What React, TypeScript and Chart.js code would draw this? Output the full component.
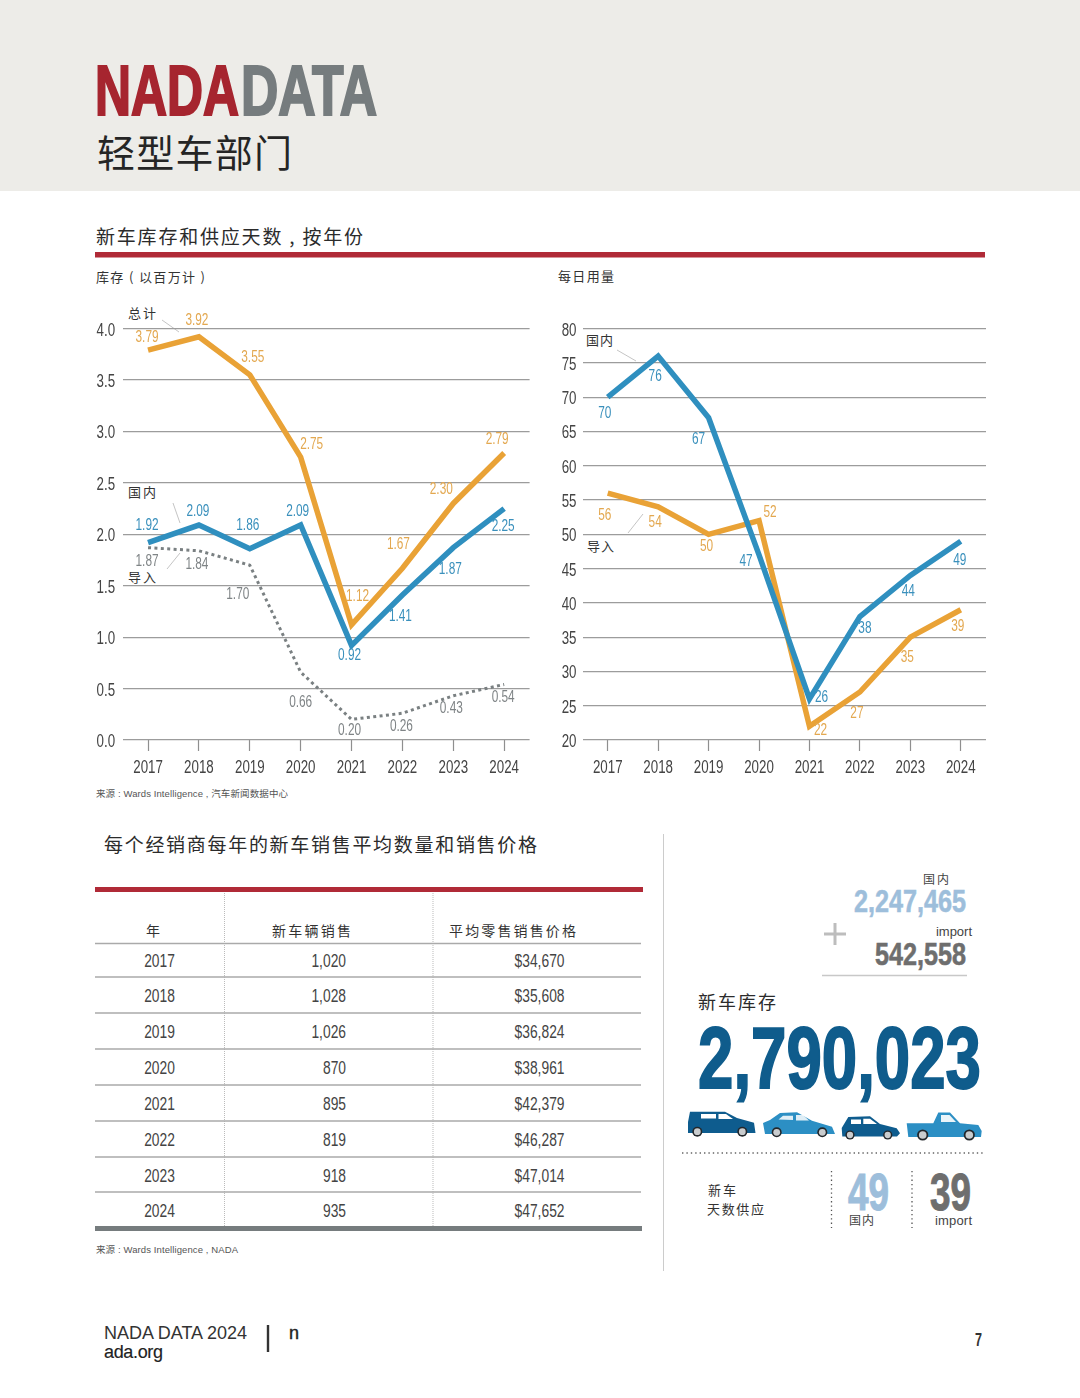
import React, { useEffect, useRef } from "react";
import { Chart, registerables } from "chart.js";

Chart.register(...registerables);

const years = ["2017", "2018", "2019", "2020", "2021", "2022", "2023", "2024"];

const invTotal = [3.79, 3.92, 3.55, 2.75, 1.12, 1.67, 2.3, 2.79];
const invDomestic = [1.92, 2.09, 1.86, 2.09, 0.92, 1.41, 1.87, 2.25];
const invImport = [1.87, 1.84, 1.7, 0.66, 0.2, 0.26, 0.43, 0.54];

const dayDomestic = [70, 76, 67, 47, 26, 38, 44, 49];
const dayImport = [56, 54, 50, 52, 22, 27, 35, 39];

const tableSales = ["1,020", "1,028", "1,026", "870", "895", "819", "918", "935"];
const tablePrices = ["$34,670", "$35,608", "$36,824", "$38,961", "$42,379", "$46,287", "$47,014", "$47,652"];

// label nudges from each point, in px, per series
const invTotalDx = [-1, -2, 3, 11, 6, -4, -12, -7];
const invTotalDy = [-13, -16, -17, -13, -28, -24, -14, -13];
const invDomesticDx = [-1, -1, -2, -3, -2, -2, -3, -1];
const invDomesticDy = [-17, -13, -23, -13, 10, 22, 22, 18];
const invImportDx = [-1, -2, -12, 0, -2, -1, -2, -1];
const invImportDy = [14, 14, 29, 30, 11, 13, 13, 13];
const dayDomesticDx = [-3, -3, -10, -13, 12, 5, -2, -1];
const dayDomesticDy = [16, 21, 22, 7, -1, 12, 16, 19];
const dayImportDx = [-3, -3, -2, 11, 11, -3, -3, -3];
const dayImportDy = [22, 16, 12, -8, 4, 22, 20, 17];

const LATIN = '"Liberation Sans", sans-serif';
const CJK = '"Noto Sans CJK SC", sans-serif';
const MIXED = '"Liberation Sans", "Noto Sans CJK SC", sans-serif';
const CONDENSE = 0.74;
const TABLE_CONDENSE = 0.79;

const ORANGE = "#E9A236";
const BLUE = "#2F8FBF";
const GREY = "#7A8082";
const ORANGE_TXT = "#E3A850";
const BLUE_TXT = "#3A90BC";
const GREY_TXT = "#7F8486";

// The installed fonts have no condensed cut, so every text the chart paints goes through a horizontal squeeze.
const condensedText = {
  id: "condensedText",
  beforeDraw(chart: any) {
    const c = chart.ctx;
    if (c.__condensed) return;
    c.__condensed = true;
    const paint = c.fillText.bind(c);
    c.fillText = (t: string, x: number, y: number) => {
      c.save();
      c.translate(x, y);
      c.scale(CONDENSE, 1);
      paint(t, 0, 0);
      c.restore();
    };
  },
};

const valueLabels = {
  id: "valueLabels",
  afterDatasetsDraw(chart: any) {
    const ctx = chart.ctx;
    chart.data.datasets.forEach((ds: any, di: number) => {
      const meta = chart.getDatasetMeta(di);
      ctx.save();
      ctx.font = `16px ${LATIN}`;
      ctx.fillStyle = ds.labelColor;
      ctx.textAlign = "center";
      ctx.textBaseline = "middle";
      ds.data.forEach((v: number, i: number) => {
        const p = meta.data[i];
        ctx.fillText(ds.labelFormat(v), p.x + ds.labelDx[i], p.y + ds.labelDy[i]);
      });
      ctx.restore();
    });
  },
};

function makeOptions(o: any) {
  return {
    responsive: false,
    animation: false,
    maintainAspectRatio: false,
    layout: { padding: { top: 28.6, right: o.right, left: 0, bottom: 0 } },
    plugins: { legend: { display: false }, tooltip: { enabled: false } },
    elements: { point: { radius: 0 }, line: { tension: 0, borderJoinStyle: "miter", borderCapStyle: "butt" } },
    scales: {
      x: {
        type: "category",
        offset: true,
        afterFit: (s: any) => { s.height = 50; },
        border: { display: false },
        grid: { drawOnChartArea: false, drawTicks: true, tickLength: 11, tickColor: "#8f8f8f", tickWidth: 1.2, offset: false },
        ticks: { autoSkip: false, maxRotation: 0, padding: 6, color: "#444", font: { family: LATIN, size: 18 } },
      },
      y: {
        min: o.min,
        max: o.max,
        afterFit: (s: any) => { s.width = o.axisW; },
        border: { display: false },
        grid: { color: "#9c9c9c", lineWidth: 1.3, drawTicks: false },
        ticks: {
          stepSize: o.step,
          padding: o.pad,
          labelOffset: 2,
          color: "#444",
          font: { family: LATIN, size: 18 },
          callback: o.fmt,
        },
      },
    },
  };
}

function LineChart({ left, width, datasets, options }: any) {
  const ref = useRef<HTMLCanvasElement | null>(null);
  useEffect(() => {
    const chart = new Chart(ref.current as HTMLCanvasElement, {
      type: "line",
      data: { labels: years, datasets },
      options,
      plugins: [condensedText, valueLabels],
    } as any);
    return () => chart.destroy();
  }, []);
  return <canvas ref={ref} width={width} height={490} style={{ position: "absolute", left, top: 300, width, height: 490 }} />;
}

function T({ x, y, s, size, fill = "#333", w, family = CJK, weight = 400, anchor = "start", squeeze = false, thick = 0, sx }: any) {
  const stroke = thick ? { stroke: fill, strokeWidth: thick } : {};
  if (sx) {
    return (
      <text transform={`translate(${x} ${y}) scale(${sx} 1)`} fontSize={size} fill={fill} fontFamily={family} fontWeight={weight} textAnchor={anchor} {...stroke}>
        {s}
      </text>
    );
  }
  return (
    <text
      x={x}
      y={y}
      fontSize={size}
      fill={fill}
      fontFamily={family}
      fontWeight={weight}
      textAnchor={anchor}
      textLength={w}
      lengthAdjust={w ? (squeeze ? "spacingAndGlyphs" : "spacing") : undefined}
      {...stroke}
    >
      {s}
    </text>
  );
}

function Wheel({ x, y, r }: any) {
  return (
    <g>
      <circle cx={x} cy={y} r={r} fill="#23272b" />
      <circle cx={x} cy={y} r={r * 0.68} fill="#c9ccce" />
    </g>
  );
}

function Cars() {
  const dark = "#0E5C8E";
  const light = "#2C8FC4";
  return (
    <g>
      <path d="M688 1122 L690 1111.7 L725 1111.7 L737 1118 L754 1122.7 L755.5 1133 L688 1133 Z" fill={dark} />
      <path d="M701 1114 H716 V1118.5 H701 Z M718.5 1114 H726 L733 1119 H718.5 Z" fill="#fff" />
      <Wheel x={697.3} y={1131.7} r={5} />
      <Wheel x={742.3} y={1131.7} r={5} />

      <path d="M763 1123 L770 1120 L780 1113 L797 1112.3 L812 1120.7 L832 1126.7 L835 1134 L765 1134 Z" fill={light} />
      <path d="M778.5 1119.5 L783 1115.7 H793 V1120 Z M796 1115 H803 L809 1120.5 H796 Z" fill="#fff" opacity={0.85} />
      <Wheel x={776.7} y={1132.3} r={5} />
      <Wheel x={822.3} y={1132.3} r={5} />

      <path d="M841.7 1128 L848.3 1117 L870 1116.3 L880 1124 L896.7 1128.3 L900 1133.3 L897 1136.5 L842.3 1136.5 Z" fill={dark} />
      <path d="M851 1119.5 H861 V1124 H851 Z M863.3 1118.7 H870 L877 1124 H863.3 Z" fill="#fff" />
      <Wheel x={850} y={1135} r={4.6} />
      <Wheel x={887.7} y={1135} r={4.6} />

      <path d="M906.7 1123.3 H933.3 L938.3 1112.5 H950 L960 1123.3 L978.3 1125 L981.7 1131 L981 1137 L908.3 1137 Z" fill={light} />
      <path d="M941 1115 H949.5 L956 1122 H941 Z" fill="#fff" opacity={0.9} />
      <Wheel x={922.7} y={1135} r={5.6} />
      <Wheel x={969.3} y={1135} r={5.6} />
    </g>
  );
}

const rowLines = [943.5, 977, 1013, 1049, 1085, 1121, 1157, 1192];
const rowCenters = [961, 996, 1032, 1068, 1104, 1140, 1176, 1211];

export default function App() {
  const leftSets = [
    {
      label: "国内", data: invDomestic, borderColor: BLUE, borderWidth: 5.5, clip: false,
      labelColor: BLUE_TXT, labelDx: invDomesticDx, labelDy: invDomesticDy, labelFormat: (v: number) => v.toFixed(2),
    },
    {
      label: "总计", data: invTotal, borderColor: ORANGE, borderWidth: 5.5, clip: false,
      labelColor: ORANGE_TXT, labelDx: invTotalDx, labelDy: invTotalDy, labelFormat: (v: number) => v.toFixed(2),
    },
    {
      label: "导入", data: invImport, borderColor: GREY, borderWidth: 3, borderDash: [3, 3.4], clip: false,
      labelColor: GREY_TXT, labelDx: invImportDx, labelDy: invImportDy, labelFormat: (v: number) => v.toFixed(2),
    },
  ];
  const rightSets = [
    {
      label: "国内", data: dayDomestic, borderColor: BLUE, borderWidth: 5.5, clip: false,
      labelColor: BLUE_TXT, labelDx: dayDomesticDx, labelDy: dayDomesticDy, labelFormat: (v: number) => String(v),
    },
    {
      label: "导入", data: dayImport, borderColor: ORANGE, borderWidth: 5.5, clip: false,
      labelColor: ORANGE_TXT, labelDx: dayImportDx, labelDy: dayImportDy, labelFormat: (v: number) => String(v),
    },
  ];
  const leftOpts = makeOptions({ right: 10.4, min: 0, max: 4, step: 0.5, axisW: 42.6, pad: 7.5, fmt: (v: number) => Number(v).toFixed(1) });
  const rightOpts = makeOptions({ right: 14, min: 20, max: 80, step: 5, axisW: 32.5, pad: 6, fmt: (v: number) => String(v) });

  return (
    <div style={{ position: "absolute", left: 0, top: 0, width: 1080, height: 1398, background: "#fff", overflow: "hidden" }}>
      <svg width={1080} height={1398} style={{ position: "absolute", left: 0, top: 0 }}>
        <rect x={0} y={0} width={1080} height={191} fill="#EDECE8" />
        <T x={95} y={115} s="NADA" size={71} weight={700} family={LATIN} fill="#A6252F" w={144} squeeze thick={2.2} />
        <T x={241} y={115} s="DATA" size={71} weight={700} family={LATIN} fill="#767C7E" w={136} squeeze thick={2.2} />
        <T x={97} y={167} s="轻型车部门" size={38} fill="#252525" w={195} />

        <T x={96} y={244} s="新车库存和供应天数 , 按年份" size={19} fill="#2b2b2b" w={267} />
        <rect x={95} y={252} width={890} height={5.5} fill="#B02A37" />
        <T x={96} y={281.5} s="库存 ( 以百万计 )" size={13} fill="#333" w={109} />
        <T x={558} y={281} s="每日用量" size={13} fill="#333" w={56} />

        {/* chart annotations */}
        <T x={128} y={318} s="总计" size={13} w={28} />
        <T x={128} y={497} s="国内" size={13} w={28} />
        <T x={128} y={582} s="导入" size={13} w={28} />
        <T x={586} y={345} s="国内" size={13} w={27} />
        <T x={587} y={551} s="导入" size={13} w={27} />
        <g stroke="#bdbdbd" strokeWidth={0.9} fill="none">
          <line x1={162} y1={320} x2={179} y2={332} />
          <line x1={173} y1={503} x2={180} y2={523} />
          <line x1={180} y1={553} x2={167} y2={569} />
          <line x1={617} y1={350} x2={636} y2={361} />
          <line x1={643} y1={514} x2={628} y2={533} />
        </g>
        <T x={96} y={797} s="来源 : Wards Intelligence , 汽车新闻数据中心" size={9.5} family={MIXED} fill="#555" w={192} />

        {/* table */}
        <T x={104} y={852} s="每个经销商每年的新车销售平均数量和销售价格" size={19} fill="#2b2b2b" w={433} />
        <rect x={95} y={887} width={548} height={5} fill="#B02A37" />
        <line x1={224.5} y1={893} x2={224.5} y2={1226} stroke="#bbb" strokeWidth={1} strokeDasharray="1 1" />
        <line x1={433} y1={893} x2={433} y2={1226} stroke="#bbb" strokeWidth={1} strokeDasharray="1 1" />
        <T x={146} y={936} s="年" size={14} />
        <T x={272} y={936} s="新车辆销售" size={14} w={79} />
        <T x={449} y={936} s="平均零售销售价格" size={14} w={127} />
        {rowLines.map((y, i) => (
          <line key={i} x1={95} y1={y} x2={641} y2={y} stroke="#aaa" strokeWidth={1.3} />
        ))}
        <rect x={95} y={1226} width={547} height={5} fill="#767C7E" />
        {years.map((yr, i) => (
          <g key={yr}>
            <T x={159.5} y={rowCenters[i] + 6} s={yr} size={17.5} family={LATIN} fill="#444" anchor="middle" sx={TABLE_CONDENSE} />
            <T x={346} y={rowCenters[i] + 6} s={tableSales[i]} size={17.5} family={LATIN} fill="#444" anchor="end" sx={TABLE_CONDENSE} />
            <T x={564.5} y={rowCenters[i] + 6} s={tablePrices[i]} size={17.5} family={LATIN} fill="#444" anchor="end" sx={TABLE_CONDENSE} />
          </g>
        ))}
        <T x={96} y={1252.5} s="来源 : Wards Intelligence , NADA" size={9.5} family={MIXED} fill="#555" w={142} />

        {/* right panel */}
        <line x1={663.5} y1={834} x2={663.5} y2={1271} stroke="#ccc" strokeWidth={1} />
        <T x={923} y={883.5} s="国内" size={12} fill="#444" w={26} />
        <T x={854} y={912} s="2,247,465" size={32} weight={700} family={LATIN} fill="#9DBEDB" w={112} squeeze thick={0.6} />
        <g stroke="#BDBDBD" strokeWidth={3}>
          <line x1={824} y1={934} x2={846} y2={934} />
          <line x1={835} y1={923} x2={835} y2={945} />
        </g>
        <T x={936} y={936} s="import" size={13} family={LATIN} fill="#444" w={36} />
        <T x={875} y={964.5} s="542,558" size={32} weight={700} family={LATIN} fill="#6E6E6E" w={91} squeeze thick={0.6} />
        <line x1={822} y1={975.5} x2={967} y2={975.5} stroke="#c8c8c8" strokeWidth={1.5} />
        <T x={698} y={1008.5} s="新车库存" size={18} fill="#2b2b2b" w={78} />
        <T x={698} y={1088} s="2,790,023" size={88} weight={700} family={LATIN} fill="#0F5C8C" w={283} squeeze thick={2} />
        <Cars />
        <line x1={682} y1={1153} x2={984} y2={1153} stroke="#666" strokeWidth={1.4} strokeDasharray="1.4 3" />
        <T x={708} y={1195} s="新车" size={13} w={28} />
        <T x={707} y={1214} s="天数供应" size={13} w={57} />
        <line x1={831.5} y1={1171} x2={831.5} y2={1228} stroke="#555" strokeWidth={1.3} strokeDasharray="1.3 3" />
        <line x1={912} y1={1171} x2={912} y2={1228} stroke="#555" strokeWidth={1.3} strokeDasharray="1.3 3" />
        <T x={848} y={1210} s="49" size={52} weight={700} family={LATIN} fill="#9DBEDB" w={41} squeeze thick={1} />
        <T x={930} y={1210} s="39" size={52} weight={700} family={LATIN} fill="#6E6E6E" w={41} squeeze thick={1} />
        <T x={849} y={1225} s="国内" size={12} fill="#444" w={25} />
        <T x={935} y={1225} s="import" size={13} family={LATIN} fill="#444" w={37} />

        {/* footer */}
        <T x={104} y={1338.5} s="NADA DATA 2024" size={18} family={LATIN} fill="#333" w={143} />
        <T x={104} y={1358} s="ada.org" size={18} family={LATIN} fill="#222" w={59} thick={0.15} />
        <line x1={268} y1={1325} x2={268} y2={1352} stroke="#333" strokeWidth={2.4} />
        <T x={289} y={1338.5} s="n" size={18} family={LATIN} fill="#222" thick={0.4} />
        <T x={975} y={1346} s="7" size={18} family={LATIN} weight={700} fill="#333" sx={0.7} />
      </svg>
      <LineChart left={80} width={460} datasets={leftSets} options={leftOpts} />
      <LineChart left={550} width={450} datasets={rightSets} options={rightOpts} />
    </div>
  );
}
